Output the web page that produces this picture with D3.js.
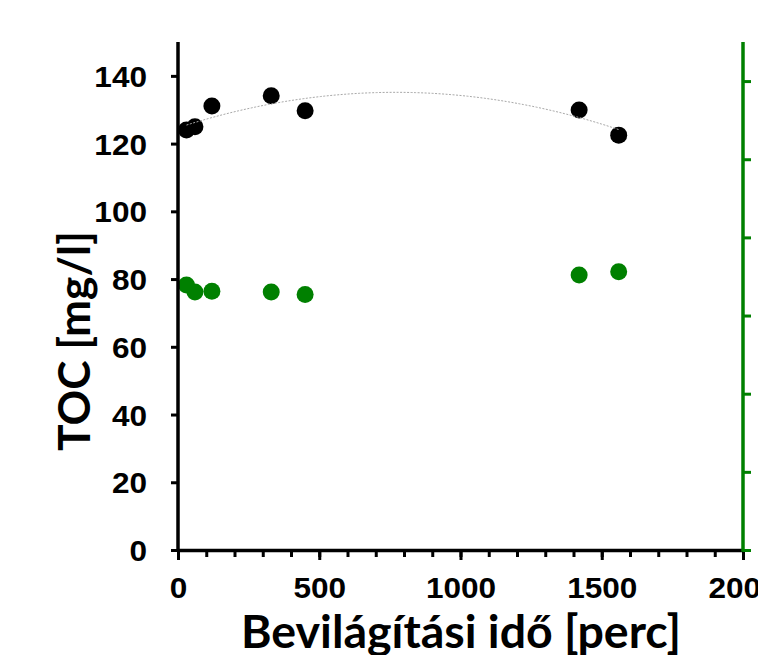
<!DOCTYPE html>
<html>
<head>
<meta charset="utf-8">
<script src="https://cdn.jsdelivr.net/npm/d3@7"></script>
<style>
  html, body { margin: 0; padding: 0; background: #fff; }
  svg { display: block; }
</style>
</head>
<body>
<svg id="chart" width="758" height="655"></svg>
<script>
// ---- data ----
const times = [30, 60, 120, 330, 450, 1420, 1560];          // Bevilágítási idő [perc]
const tocValues = [124.0, 125.0, 131.1, 134.1, 129.7, 129.9, 122.5]; // TOC [mg/l] (left axis)
const greenValues = [33.9, 33.0, 33.1, 33.0, 32.7, 35.2, 35.6];      // secondary series (right axis)
const xTicksMajor = [0, 500, 1000, 1500, 2000];
const yTicksLeft = [0, 20, 40, 60, 80, 100, 120, 140];
const yTicksRight = [0, 10, 20, 30, 40, 50, 60];

const svg = d3.select("#chart");
const L = 178, R = 743, T = 42, B = 550;
const green = "#008000";

const x = d3.scaleLinear().domain([0, 2000]).range([L, R]);
const yL = d3.scaleLinear().domain([0, 150]).range([B, T]);
const yR = d3.scaleLinear().domain([0, 65]).range([B, T]);

// quadratic least-squares trendline of the TOC series
function polyfit2(xs, ys) {
  const n = xs.length;
  let s = [0,0,0,0,0], t = [0,0,0];
  for (let i = 0; i < n; i++) {
    const xi = xs[i], yi = ys[i];
    for (let k = 0; k < 5; k++) s[k] += Math.pow(xi, k);
    for (let k = 0; k < 3; k++) t[k] += Math.pow(xi, k) * yi;
  }
  const M = [[s[0], s[1], s[2], t[0]], [s[1], s[2], s[3], t[1]], [s[2], s[3], s[4], t[2]]];
  for (let i = 0; i < 3; i++) {
    for (let j = i + 1; j < 3; j++) {
      const f = M[j][i] / M[i][i];
      for (let k = i; k < 4; k++) M[j][k] -= f * M[i][k];
    }
  }
  const c = [0,0,0];
  for (let i = 2; i >= 0; i--) {
    let v = M[i][3];
    for (let k = i + 1; k < 3; k++) v -= M[i][k] * c[k];
    c[i] = v / M[i][i];
  }
  return c;
}
const coef = polyfit2(times, tocValues);
const xMin = d3.min(times), xMax = d3.max(times);
const trend = d3.range(0, 101).map(i => {
  const xv = xMin + (xMax - xMin) * i / 100;
  return [xv, coef[0] + coef[1] * xv + coef[2] * xv * xv];
});

// ---- points ----
svg.append("g").selectAll("circle").data(times).join("circle")
  .attr("cx", (d) => x(d)).attr("cy", (d, i) => yR(greenValues[i]))
  .attr("r", 8.5).attr("fill", green);

svg.append("g").selectAll("circle").data(times).join("circle")
  .attr("cx", (d) => x(d)).attr("cy", (d, i) => yL(tocValues[i]))
  .attr("r", 8.5).attr("fill", "#000");

svg.append("path")
  .datum(trend)
  .attr("fill", "none")
  .attr("stroke", "#a8a8a8")
  .attr("stroke-width", 1)
  .attr("stroke-dasharray", "2,1.5")
  .attr("d", d3.line().x(d => x(d[0])).y(d => yL(d[1])));

// ---- axes ----
const tickFont = "'Liberation Sans', Arial, sans-serif";
const tickSize = 29.5;
const stretch = 1.07;

// x minor ticks
const gxMinor = svg.append("g").attr("transform", `translate(0,${B})`)
  .call(d3.axisBottom(x).tickValues(d3.range(0, 2001, 100)).tickSize(7).tickSizeOuter(0).tickFormat(""));
gxMinor.select(".domain").remove();
gxMinor.selectAll("line").attr("stroke", "#000").attr("stroke-width", 3);

// x major ticks + labels
const gx = svg.append("g").attr("transform", `translate(0,${B})`)
  .call(d3.axisBottom(x).tickValues(xTicksMajor).tickSize(10).tickSizeOuter(0).tickPadding(0).tickFormat(d3.format("d")));
gx.select(".domain").attr("stroke", "#000").attr("stroke-width", 3.5);
gx.selectAll("line").attr("stroke", "#000").attr("stroke-width", 3);
gx.selectAll("text")
  .attr("font-family", tickFont).attr("font-weight", "bold").attr("font-size", tickSize)
  .attr("fill", "#000").attr("y", 48.5).attr("dy", 0)
  .attr("transform", `scale(${stretch},1)`);

// left y axis
const gy = svg.append("g").attr("transform", `translate(${L},0)`)
  .call(d3.axisLeft(yL).tickValues(yTicksLeft).tickSize(7).tickSizeOuter(0).tickPadding(0).tickFormat(d3.format("d")));
gy.select(".domain").attr("stroke", "#000").attr("stroke-width", 3.5)
  .attr("d", `M0,${B + 1.75}V${T}`);
gy.selectAll("line").attr("stroke", "#000").attr("stroke-width", 3);
gy.selectAll("text")
  .attr("font-family", tickFont).attr("font-weight", "bold").attr("font-size", tickSize)
  .attr("fill", "#000").attr("x", -31 / stretch).attr("dy", 10.5)
  .attr("transform", `scale(${stretch},1)`);

// right y axis (green), labels fall outside the picture
const gyR = svg.append("g").attr("transform", `translate(${R},0)`)
  .call(d3.axisRight(yR).tickValues(yTicksRight).tickSize(8).tickSizeOuter(0).tickFormat(""));
gyR.select(".domain").attr("stroke", green).attr("stroke-width", 3.5)
  .attr("d", `M0,${B + 1.75}V${T}`);
gyR.selectAll("line").attr("stroke", green).attr("stroke-width", 3);

// ---- axis titles ----
const titleFont = "Lato, 'Open Sans', sans-serif";
function fit(sel, target) {
  sel.attr("font-size", 44);
  const w = sel.node().getComputedTextLength();
  sel.attr("font-size", 44 * target / w);
}
const xt = svg.append("text")
  .attr("x", (L + R) / 2 + 0.5).attr("y", 648)
  .attr("text-anchor", "middle")
  .attr("font-family", titleFont).attr("font-weight", "bold").attr("fill", "#000")
  .text("Bevilágítási idő [perc]");
fit(xt, 440);

const yt = svg.append("text")
  .attr("transform", "translate(90,341) rotate(-90)")
  .attr("text-anchor", "middle")
  .attr("font-family", titleFont).attr("font-weight", "bold").attr("fill", "#000")
  .text("TOC [mg/l]");
fit(yt, 220);
</script>
</body>
</html>
